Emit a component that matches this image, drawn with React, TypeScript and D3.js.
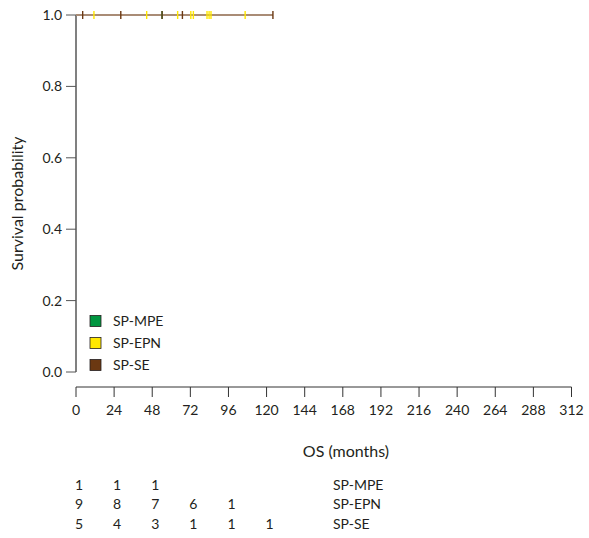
import React, { useEffect, useRef } from 'react';
import * as d3 from 'd3';

// Kaplan-Meier data (months); nobody died, every mark is a censoring
const groups = ['SP-MPE', 'SP-EPN', 'SP-SE'];
const groupColors = ['#009640', '#ffe800', '#6b3812'];
const followUpEnd = [54.2, 106.5, 124];
const censorMPE = [54.2];
const censorEPN = [11.3, 44.5, 64, 72.3, 73.9, 82.5, 83.8, 85, 106.5];
const censorSE = [4.2, 28.2, 54.2, 67, 124];
const xTicks = [0, 24, 48, 72, 96, 120, 144, 168, 192, 216, 240, 264, 288, 312];
const yTicks = [0, 0.2, 0.4, 0.6, 0.8, 1.0];
const riskTimes = [0, 24, 48, 72, 96, 120];
const riskMPE = [1, 1, 1];
const riskEPN = [9, 8, 7, 6, 1];
const riskSE = [5, 4, 3, 1, 1, 1];

const FONT = 'Lato, "Open Sans", sans-serif';
const TEXT = '#231f20';

const App = () => {
  const ref = useRef<SVGSVGElement>(null);

  useEffect(() => {
    const svg = d3.select(ref.current);
    svg.selectAll('*').remove();

    const x = d3.scaleLinear().domain([0, 312]).range([76, 571.5]);
    const y = d3.scaleLinear().domain([0, 1]).range([372, 15]);

    // y axis
    const yAxis = svg.append('g').attr('transform', 'translate(76,0)');
    yAxis.append('line')
      .attr('x1', 0).attr('x2', 0)
      .attr('y1', y(0)).attr('y2', y(1))
      .attr('stroke', '#808080').attr('stroke-width', 2);
    yTicks.forEach((t) => {
      yAxis.append('line')
        .attr('x1', -10).attr('x2', 0)
        .attr('y1', y(t)).attr('y2', y(t))
        .attr('stroke', '#555').attr('stroke-width', 1);
      yAxis.append('text')
        .attr('x', -14).attr('y', y(t)).attr('dy', '0.35em')
        .attr('text-anchor', 'end')
        .attr('font-size', 14).attr('font-family', FONT).attr('fill', TEXT)
        .text(d3.format('.1f')(t));
    });

    svg.append('text')
      .attr('transform', `translate(23,${(y(0) + y(1)) / 2 + 10}) rotate(-90)`)
      .attr('text-anchor', 'middle')
      .attr('font-size', 16).attr('font-family', FONT).attr('fill', TEXT)
      .text('Survival probability');

    // x axis, detached below the plot
    const xAxis = svg.append('g').attr('transform', 'translate(0,387)');
    xAxis.append('line')
      .attr('x1', x(0)).attr('x2', x(312))
      .attr('y1', 0).attr('y2', 0)
      .attr('stroke', '#333').attr('stroke-width', 1);
    xTicks.forEach((t) => {
      xAxis.append('line')
        .attr('x1', x(t)).attr('x2', x(t))
        .attr('y1', 0).attr('y2', 10)
        .attr('stroke', '#333').attr('stroke-width', 1);
      xAxis.append('text')
        .attr('x', x(t)).attr('y', 28)
        .attr('text-anchor', 'middle')
        .attr('font-size', 14).attr('font-family', FONT).attr('fill', TEXT)
        .text(t);
    });

    svg.append('text')
      .attr('x', 346).attr('y', 457)
      .attr('text-anchor', 'middle')
      .attr('font-size', 16).attr('font-family', FONT).attr('fill', TEXT)
      .text('OS (months)');

    // survival curves (flat at 1.0)
    const line = d3.line<[number, number]>()
      .x((d) => x(d[0]))
      .y((d) => y(d[1]));
    const censors = [censorMPE, censorEPN, censorSE];
    groups.forEach((g, i) => {
      svg.append('path')
        .datum([[0, 1], [followUpEnd[i], 1]] as [number, number][])
        .attr('fill', 'none')
        .attr('stroke', d3.interpolateRgb(groupColors[i], '#ffffff')(0.42))
        .attr('stroke-width', 2.2)
        .attr('d', line);
    });
    groups.forEach((g, i) => {
      svg.append('g')
        .selectAll('line')
        .data(censors[i])
        .enter()
        .append('line')
        .attr('x1', (d) => x(d)).attr('x2', (d) => x(d))
        .attr('y1', y(1) - 4).attr('y2', y(1) + 4)
        .attr('stroke', groupColors[i])
        .attr('stroke-width', 1.4);
    });

    // legend
    const legend = svg.append('g');
    groups.forEach((g, i) => {
      const cy = 321 + i * 22;
      legend.append('rect')
        .attr('x', 90).attr('y', cy - 5.5)
        .attr('width', 11).attr('height', 11)
        .attr('fill', groupColors[i])
        .attr('stroke', '#231f20').attr('stroke-width', 0.8);
      legend.append('text')
        .attr('x', 113).attr('y', cy).attr('dy', '0.35em')
        .attr('font-size', 14).attr('font-family', FONT).attr('fill', TEXT)
        .text(g);
    });

    // numbers at risk
    const risks = [riskMPE, riskEPN, riskSE];
    groups.forEach((g, i) => {
      const ry = 485 + i * 19.5;
      risks[i].forEach((n, j) => {
        svg.append('text')
          .attr('x', x(riskTimes[j]) + 3).attr('y', ry).attr('dy', '0.35em')
          .attr('text-anchor', 'middle')
          .attr('font-size', 14).attr('font-family', FONT).attr('fill', TEXT)
          .text(n);
      });
      svg.append('text')
        .attr('x', 333).attr('y', ry).attr('dy', '0.35em')
        .attr('font-size', 14).attr('font-family', FONT).attr('fill', TEXT)
        .text(g);
    });
  }, []);

  return (
    <svg ref={ref} width={589} height={538} style={{ position: 'absolute', left: 0, top: 0 }}></svg>
  );
};

export default App;
